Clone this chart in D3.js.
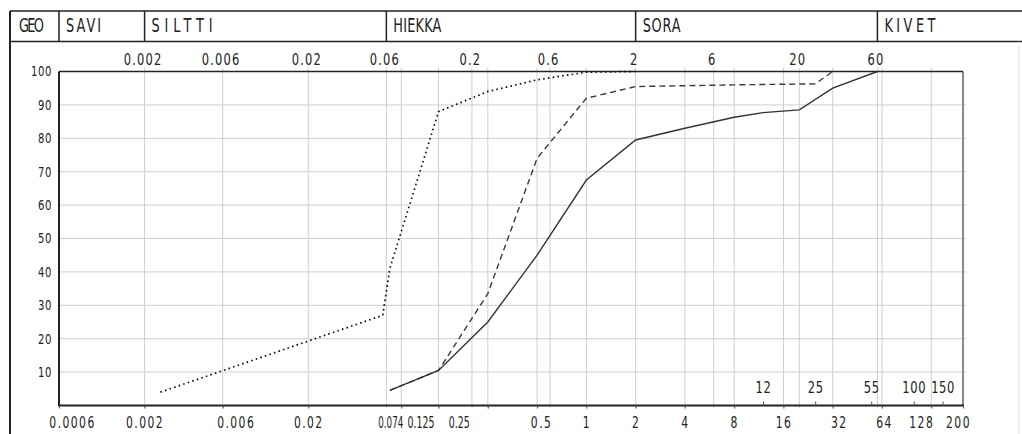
<!DOCTYPE html>
<html>
<head>
<meta charset="utf-8">
<script src="https://cdn.jsdelivr.net/npm/d3@7/dist/d3.min.js"></script>
<style>
  body { margin: 0; background: #fff; }
  svg text { font-family: "DejaVu Sans", sans-serif; fill: #222; }
</style>
</head>
<body>
<svg id="chart"></svg>
<script>
// soil classes (header row) and where each one starts, in mm
const soilClasses = ['SAVI', 'SILTTI', 'HIEKKA', 'SORA', 'KIVET']
const classStarts = [0.0006, 0.002, 0.06, 2, 60]

// tick labels
const topTicks = [0.002, 0.006, 0.02, 0.06, 0.2, 0.6, 2, 6, 20, 60]
const bottomTicks = [0.0006, 0.002, 0.006, 0.02, 0.074, 0.125, 0.25, 0.5, 1, 2, 4, 8, 16, 32, 64, 128, 200]
const extraTicks = [12, 25, 55, 100, 150]
const percentTicks = [10, 20, 30, 40, 50, 60, 70, 80, 90, 100]

// three grading curves: grain size (mm) and passing (%)
const dottedSize = [0.0025, 0.057, 0.063, 0.125, 0.25, 0.5, 1, 2]
const dottedPass = [4, 27, 41, 88, 94, 97.5, 99.8, 100]

const dashedSize = [0.063, 0.125, 0.25, 0.5, 1, 2, 8, 25, 32]
const dashedPass = [4.5, 10.5, 33.5, 74, 92, 95.5, 96, 96.3, 100]

const solidSize = [0.063, 0.125, 0.25, 0.5, 1, 2, 4, 8, 12, 20, 32, 60]
const solidPass = [4.5, 10.5, 25, 45, 67.5, 79.5, 83, 86.3, 87.7, 88.5, 95, 100]

const width = 1022, height = 434
const plot = {left: 59, right: 963, top: 71.5, bottom: 405.5}
const squeeze = 0.72   // the drawing uses a tall, narrow lettering

// small nudges so crowded labels sit like the original
const bottomShift = {0.0006: 13, 0.006: 13, 0.074: -11, 0.125: -18, 0.25: -29, 0.5: 4, 32: 6, 64: 2, 128: -10, 200: -5}
const bottomFit = {0.074: 25, 0.125: 27, 0.25: 21}
const headerWidth = {GEO: 25, SAVI: 35, SILTTI: 61, HIEKKA: 48, SORA: 38, KIVET: 51}

const svg = d3.select('#chart').attr('width', width).attr('height', height)

const x = d3.scaleLog().domain([0.0006, 200]).range([plot.left, plot.right])
const y = d3.scaleLinear().domain([0, 100]).range([plot.bottom, plot.top])

// narrow the glyphs while keeping the anchor point in place
function narrow(texts, k) {
	texts.each(function () {
		const t = d3.select(this)
		const ox = +t.attr('x') || 0
		const odx = parseFloat(t.attr('dx')) || 0
		t.attr('transform', 'scale(' + k + ',1)').attr('x', ox / k).attr('dx', odx / k)
	})
}

// grid
const gridX = Array.from(new Set(topTicks.concat(bottomTicks))).filter(d => d > 0.0006 && d < 200)
svg.append('g')
	.attr('stroke', '#cfcfcf')
	.attr('stroke-width', 1)
	.selectAll('line')
	.data(gridX)
	.join('line')
		.attr('x1', d => x(d)).attr('x2', d => x(d))
		.attr('y1', plot.top - 4).attr('y2', plot.bottom + 3)

svg.append('g')
	.attr('stroke', '#cfcfcf')
	.attr('stroke-width', 1)
	.selectAll('line')
	.data(percentTicks.filter(d => d < 100))
	.join('line')
		.attr('x1', plot.left).attr('x2', plot.right + 3)
		.attr('y1', d => y(d)).attr('y2', d => y(d))

// plot frame
svg.append('line').attr('x1', plot.right).attr('x2', plot.right).attr('y1', plot.top).attr('y2', plot.bottom)
	.attr('stroke', '#8a8a8a').attr('stroke-width', 2)
svg.append('line').attr('x1', plot.left).attr('x2', plot.right).attr('y1', plot.top).attr('y2', plot.top)
	.attr('stroke', '#222').attr('stroke-width', 1.5)
svg.append('line').attr('x1', plot.left).attr('x2', plot.right + 1).attr('y1', plot.bottom).attr('y2', plot.bottom)
	.attr('stroke', '#222').attr('stroke-width', 2)
svg.append('line').attr('x1', plot.left).attr('x2', plot.left).attr('y1', plot.top).attr('y2', plot.bottom + 1)
	.attr('stroke', '#222').attr('stroke-width', 2)

// axes
const bottomAxis = svg.append('g')
	.attr('transform', 'translate(0,' + plot.bottom + ')')
	.call(d3.axisBottom(x).tickValues(bottomTicks).tickFormat(d => String(d)).tickSize(3).tickPadding(9))

const topAxis = svg.append('g')
	.attr('transform', 'translate(0,' + plot.top + ')')
	.call(d3.axisTop(x).tickValues(topTicks).tickFormat(d => String(d)).tickSize(0).tickPadding(6.5))

const innerAxis = svg.append('g')
	.attr('transform', 'translate(0,' + plot.bottom + ')')
	.call(d3.axisTop(x).tickValues(extraTicks).tickFormat(d => String(d)).tickSize(4).tickPadding(8.5))

const leftAxis = svg.append('g')
	.attr('transform', 'translate(' + plot.left + ',0)')
	.call(d3.axisLeft(y).tickValues(percentTicks).tickSize(0).tickPadding(7))

svg.selectAll('.domain').remove()
svg.selectAll('.tick line').attr('stroke', '#555')
svg.selectAll('.tick text')
	.attr('font-family', '"DejaVu Sans", sans-serif')
	.attr('fill', '#222')

bottomAxis.selectAll('text')
	.attr('font-size', 15)
	.attr('letter-spacing', d => bottomFit[d] ? 0 : 2)
	.attr('dx', d => bottomShift[d] || 0)
	.attr('textLength', d => bottomFit[d] ? bottomFit[d] / squeeze : null)
	.attr('lengthAdjust', 'spacingAndGlyphs')
topAxis.selectAll('text').attr('font-size', 16).attr('letter-spacing', 1.6).attr('dx', -2)
innerAxis.selectAll('text').attr('font-size', 16).attr('letter-spacing', 0.8)
leftAxis.selectAll('text').attr('font-size', 14).attr('letter-spacing', 0.8)
narrow(svg.selectAll('.tick text'), squeeze)

// header row
const header = svg.append('g').attr('stroke', '#222').attr('stroke-width', 1.5)
header.append('line').attr('x1', 10).attr('x2', width).attr('y1', 11).attr('y2', 11)
header.append('line').attr('x1', 10).attr('x2', width).attr('y1', 41.5).attr('y2', 41.5)
header.append('line').attr('x1', 10).attr('x2', 10).attr('y1', 11).attr('y2', height).attr('stroke-width', 2)
header.selectAll('line.div')
	.data(classStarts)
	.join('line')
		.attr('class', 'div')
		.attr('x1', d => x(d)).attr('x2', d => x(d))
		.attr('y1', 11).attr('y2', 41.5)
svg.append('line').attr('x1', 1019).attr('x2', 1019).attr('y1', 41.5).attr('y2', height)
	.attr('stroke', '#e2e2e2').attr('stroke-width', 1)

const headerLabels = [{name: 'GEO', at: 19}].concat(soilClasses.map((c, i) => ({name: c, at: x(classStarts[i]) + 7})))
const headK = 0.68
svg.append('g')
	.selectAll('text')
	.data(headerLabels)
	.join('text')
		.attr('transform', d => 'translate(' + d.at + ',32) scale(' + headK + ',1)')
		.attr('font-size', 19)
		.attr('textLength', d => headerWidth[d.name] / headK)
		.attr('lengthAdjust', 'spacing')
		.text(d => d.name)

// curves
const line = d3.line().x(d => x(d.size)).y(d => y(d.pass))
const curves = [
	{size: dottedSize, pass: dottedPass, stroke: '#111', width: 1.7, dash: '1.6,3.2'},
	{size: dashedSize, pass: dashedPass, stroke: '#3a3a3a', width: 1.4, dash: '6,4'},
	{size: solidSize, pass: solidPass, stroke: '#333', width: 1.4, dash: null}
]
svg.append('g')
	.attr('fill', 'none')
	.selectAll('path')
	.data(curves)
	.join('path')
		.attr('d', c => line(c.size.map((s, i) => ({size: s, pass: c.pass[i]}))))
		.attr('stroke', c => c.stroke)
		.attr('stroke-width', c => c.width)
		.attr('stroke-dasharray', c => c.dash)
</script>
</body>
</html>
